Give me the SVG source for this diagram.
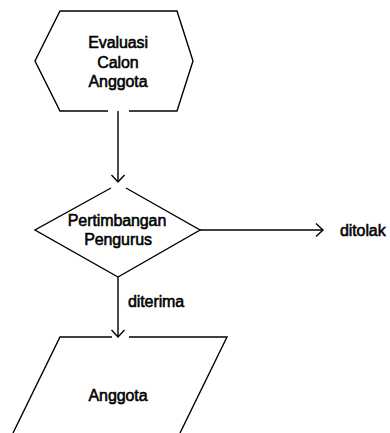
<svg xmlns="http://www.w3.org/2000/svg" width="390" height="433" viewBox="0 0 390 433">
<defs>
<style>
.s{fill:none;stroke:#000;stroke-width:1.4;stroke-linejoin:miter}
.t{font-family:"Liberation Sans",Arial,sans-serif;font-size:16px;fill:#000;stroke:#000;stroke-width:0.55;letter-spacing:-0.1px}
.m{text-anchor:middle}
</style>
<marker id="arr" markerWidth="16" markerHeight="16" refX="8" refY="8" orient="auto" markerUnits="userSpaceOnUse">
<path d="M1,1.5 L8,8 L1,14.5" fill="none" stroke="#000" stroke-width="1.4"/>
</marker>
</defs>
<rect width="390" height="433" fill="#fff"/>
<g id="node-evaluasi">
<path class="s" d="M108,111 L60,111 L35,61 L60,11 L177,11 L193,61 L177,111 L129,111"/>
<text class="t m" x="118" y="48">Evaluasi</text>
<text class="t m" x="118" y="68">Calon</text>
<text class="t m" x="118" y="87">Anggota</text>
</g>
<g id="node-pertimbangan">
<path class="s" d="M111,188 L35,230 L118,277 L200,230 L126,188"/>
<text class="t m" x="117" y="226">Pertimbangan</text>
<text class="t m" x="118" y="245">Pengurus</text>
</g>
<g id="node-ditolak">
<text class="t" x="340" y="236">ditolak</text>
</g>
<g id="node-anggota">
<path class="s" d="M112,337 L60,337 L13,433 M129,337 L227,337 L180,433"/>
<text class="t m" x="118" y="401">Anggota</text>
</g>
<g id="connectors">
<line class="s" x1="118" y1="111" x2="118" y2="182" marker-end="url(#arr)"/>
<line class="s" x1="200" y1="230" x2="323" y2="230" marker-end="url(#arr)"/>
<line class="s" x1="118" y1="277" x2="118" y2="337" marker-end="url(#arr)"/>
<text class="t" x="128" y="307">diterima</text>
</g>
</svg>
